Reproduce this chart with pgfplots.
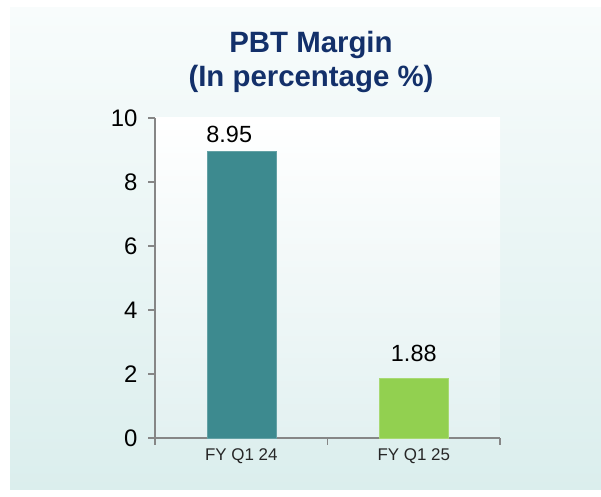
\documentclass[border=0pt]{standalone}
\usepackage{pgfplots}
\pgfplotsset{compat=1.18}
\usepackage{fontspec}
\setmainfont{Liberation Sans}
\definecolor{barA}{HTML}{3D8A8F}
\definecolor{barB}{HTML}{92D050}
\definecolor{titleblue}{HTML}{13306A}
\definecolor{axgray}{HTML}{868686}
\definecolor{panelbot}{HTML}{DBEEED}
\definecolor{paneltop}{HTML}{F8FCFC}
\definecolor{plotbot}{HTML}{E3F1F1}
\begin{document}
\begin{tikzpicture}[x=1bp,y=1bp]
\path[use as bounding box] (0,0) rectangle (601,497);
\shade[top color=paneltop,bottom color=panelbot] (10,7) rectangle (601,489);
\node[anchor=base, font=\fontsize{29.5}{34}\selectfont\bfseries, text=titleblue] at (311,444) {PBT Margin};
\node[anchor=base, font=\fontsize{29.5}{34}\selectfont\bfseries, text=titleblue] at (311,410) {(In percentage \%)};
\begin{axis}[
  at={(155bp,59bp)}, anchor=south west,
  scale only axis, width=345bp, height=320bp,
  xmin=-0.5, xmax=1.5, ymin=0, ymax=10,
  ytick={0,2,4,6,8,10},
  xtick={-0.5,0.5,1.5},
  x tick label as interval,
  xticklabels={FY Q1 24, FY Q1 25},
  axis lines*=left,
  axis line style={axgray, line width=1.5bp},
  tick style={axgray, line width=1.5bp},
  tick align=outside,
  major tick length=7bp,
  axis background/.style={shade, top color=white, bottom color=plotbot},
  /pgf/number format/assume math mode=true,
  /pgf/number format/fixed,
  /pgf/number format/precision=2,
  yticklabel style={font=\fontsize{24}{27}\selectfont, text=black, xshift=-7bp},
  xticklabel style={font=\fontsize{17}{20}\selectfont, text=black!85},
  ybar, bar width=69bp, bar shift=0pt,
  nodes near coords,
  clip=false,
]
\addplot[fill=barA, draw=barA!80!white, nodes near coords style={font=\fontsize{23.5}{26}\selectfont, inner sep=0pt, yshift=9bp, xshift=-12bp}] coordinates {(0,8.95)};
\addplot[fill=barB, draw=barB!80!white, nodes near coords style={font=\fontsize{23.5}{26}\selectfont, inner sep=0pt, yshift=16bp}] coordinates {(1,1.88)};
\end{axis}
\end{tikzpicture}
\end{document}
